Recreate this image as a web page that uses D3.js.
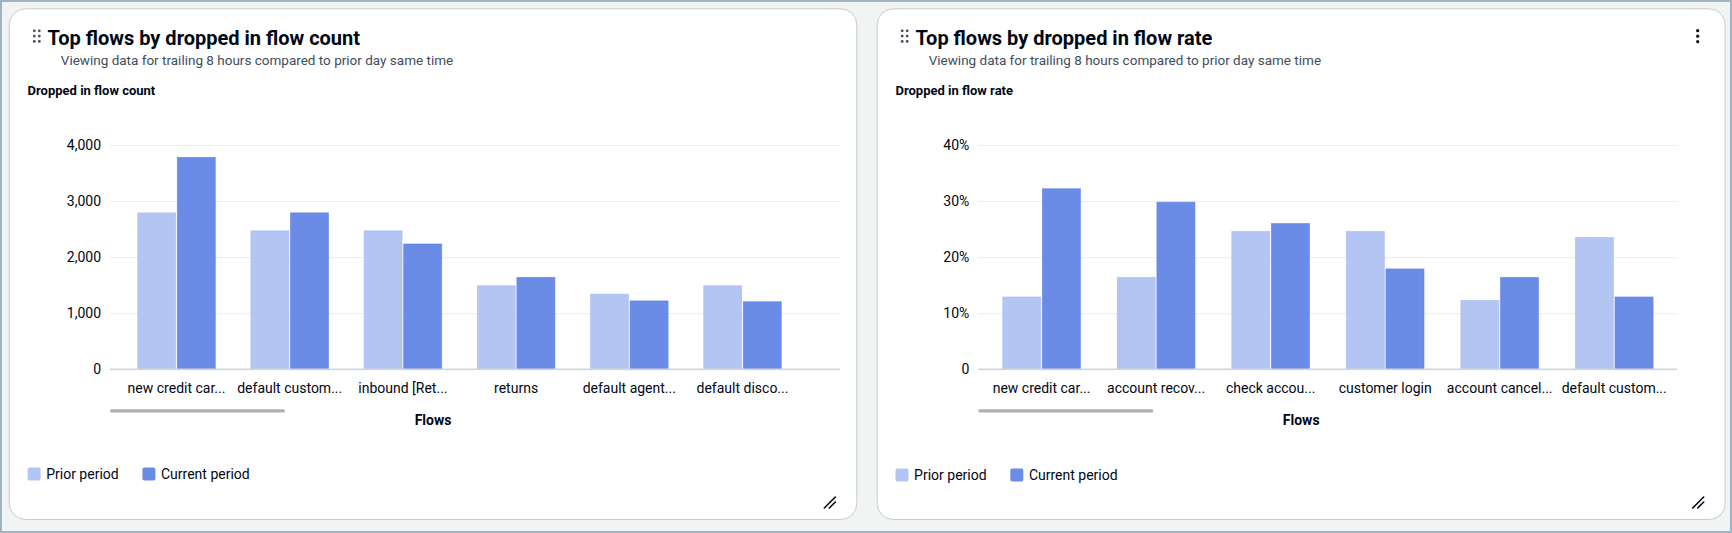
<!DOCTYPE html>
<html><head><meta charset="utf-8">
<script src="https://cdn.jsdelivr.net/npm/d3@7"></script>
<style>html,body{margin:0;padding:0;background:#fff;} svg{display:block;font-family:Roboto,"Noto Sans",sans-serif;}</style>
</head><body><svg id="c" width="1732" height="533"></svg>
<script>
// ---- data ----
const countFlows = ["new credit car...", "default custom...", "inbound [Ret...", "returns", "default agent...", "default disco..."];
const countPrior = [2790, 2470, 2470, 1490, 1340, 1490];
const countCurrent = [3780, 2790, 2235, 1640, 1220, 1205];
const countTicks = [0, 1000, 2000, 3000, 4000];

const rateFlows = ["new credit car...", "account recov...", "check accou...", "customer login", "account cancel...", "default custom..."];
const ratePrior = [12.9, 16.4, 24.6, 24.6, 12.3, 23.5];
const rateCurrent = [32.2, 29.8, 26.0, 17.9, 16.4, 12.9];
const rateTicks = [0, 10, 20, 30, 40];

const seriesNames = ["Prior period", "Current period"];
const seriesKeys = ["prior", "current"];
const seriesColors = ["#b3c5f3", "#6a8ce7"];

const titles = ["Top flows by dropped in flow count", "Top flows by dropped in flow rate"];
const subtitle = "Viewing data for trailing 8 hours compared to prior day same time";
const yTitles = ["Dropped in flow count", "Dropped in flow rate"];
const xTitle = "Flows";

// ---- drawing ----
const svg = d3.select("#c");
const W = 1732, H = 533;
svg.append("rect").attr("x", 1).attr("y", 1).attr("width", W - 2).attr("height", H - 2)
  .attr("fill", "#f2f3f3").attr("stroke", "#9bb4c6").attr("stroke-width", 2);

const TXT = "#000716", SUB = "#414d5c";

function drawCard(cfg) {
  const cx = cfg.cardX, cy = 8.3, cw = cfg.cardW, ch = 511.7;
  const g = svg.append("g");
  g.append("rect").attr("x", cx + 0.5).attr("y", cy + 0.5).attr("width", cw - 1).attr("height", ch - 1)
    .attr("rx", 16).attr("fill", "#ffffff").attr("stroke", "#c2ccd5").attr("stroke-width", 1);

  // drag handle
  const hd = [];
  [0, 1].forEach(c => [0, 1, 2].forEach(r => hd.push([cx + 25.5 + c * 5, 30.8 + r * 5.3])));
  g.selectAll(".hd").data(hd).join("circle").attr("cx", d => d[0]).attr("cy", d => d[1]).attr("r", 1.4).attr("fill", "#414d5c");

  g.append("text").attr("x", cx + 38.7).attr("y", 45).attr("font-size", 20).attr("font-weight", 700)
    .attr("fill", TXT).text(cfg.title);
  g.append("text").attr("x", cx + 52).attr("y", 64.5).attr("font-size", 13.5)
    .attr("fill", SUB).text(subtitle);
  g.append("text").attr("x", cx + 18.8).attr("y", 95).attr("font-size", 13).attr("font-weight", 700)
    .attr("fill", TXT).text(cfg.yTitle);

  if (cfg.menu) {
    [30.7, 36.2, 41.7].forEach(yy => g.append("circle").attr("cx", cx + cw - 28).attr("cy", yy).attr("r", 1.6).attr("fill", TXT));
  }

  // scales
  const y = d3.scaleLinear().domain([0, cfg.ticks[cfg.ticks.length - 1]]).range([369.3, 145]);
  const x0 = d3.scaleBand().domain(cfg.cats).range(cfg.bandRange).paddingInner(cfg.pi).paddingOuter(0.16);
  const x1 = d3.scaleBand().domain(seriesKeys).range([0, x0.bandwidth()]).paddingInner(0.04);

  // y axis with gridlines
  const ya = g.append("g").attr("transform", `translate(${cfg.grid[0]},0)`)
    .call(d3.axisLeft(y).tickValues(cfg.ticks).tickFormat(cfg.fmt)
      .tickSize(-(cfg.grid[1] - cfg.grid[0])).tickPadding(9));
  ya.select(".domain").remove();
  ya.selectAll(".tick line").attr("stroke", "#e9ebed").attr("stroke-width", 1);
  ya.selectAll(".tick text").attr("fill", TXT).attr("font-size", 14).attr("font-family", "Roboto");

  // bars
  const rows = cfg.cats.map((c, i) => ({ cat: c, vals: [cfg.prior[i], cfg.current[i]] }));
  const grp = g.selectAll(".grp").data(rows).join("g").attr("transform", d => `translate(${x0(d.cat)},0)`);
  grp.selectAll("rect").data(d => d.vals.map((v, k) => ({ v, k })))
    .join("rect")
    .attr("x", d => x1(seriesKeys[d.k]))
    .attr("y", d => y(d.v))
    .attr("width", x1.bandwidth())
    .attr("height", d => y(0) - y(d.v))
    .attr("fill", d => seriesColors[d.k])
    .attr("stroke", d => d.k === 0 ? "#a9bdf1" : "#5d82e4")
    .attr("stroke-width", 0.8)
    .attr("stroke-opacity", 0.7);

  // baseline
  g.append("line").attr("x1", cfg.grid[0]).attr("x2", cfg.grid[1]).attr("y1", y(0)).attr("y2", y(0))
    .attr("stroke", "#d1d5db").attr("stroke-width", 1.5);

  // x axis labels
  const xa = g.append("g").attr("transform", `translate(0,${y(0)})`)
    .call(d3.axisBottom(x0).tickSize(0).tickPadding(13.3));
  xa.select(".domain").remove();
  xa.selectAll(".tick text").attr("fill", TXT).attr("font-size", 14).attr("font-family", "Roboto");

  // scrollbar
  g.append("rect").attr("x", cfg.grid[0]).attr("y", 409.3).attr("width", 175).attr("height", 3.2)
    .attr("rx", 1.6).attr("fill", "#b0b0b0");

  // x title
  g.append("text").attr("x", cx + cw / 2).attr("y", 424.5).attr("text-anchor", "middle")
    .attr("font-size", 14).attr("font-weight", 700).attr("fill", TXT).text(xTitle);

  // legend
  let lx = cx + 18.8;
  seriesNames.forEach((nm, k) => {
    g.append("rect").attr("x", lx).attr("y", cfg.legY - 6.5).attr("width", 13).attr("height", 13).attr("rx", 2)
      .attr("fill", seriesColors[k]);
    const t = g.append("text").attr("x", lx + 18.6).attr("y", cfg.legY + 5).attr("font-size", 14)
      .attr("fill", TXT).text(nm);
    lx += k === 0 ? 114.8 : 0;
  });

  // resize icon
  const rx = cx + cw - 27, ry = 502.5;
  g.append("line").attr("x1", rx - 6).attr("y1", ry + 5.5).attr("x2", rx + 5).attr("y2", ry - 5.5)
    .attr("stroke", TXT).attr("stroke-width", 1.6).attr("stroke-linecap", "round");
  g.append("line").attr("x1", rx - 1).attr("y1", ry + 5.5).attr("x2", rx + 5).attr("y2", ry - 0.5)
    .attr("stroke", TXT).attr("stroke-width", 1.6).attr("stroke-linecap", "round");
}

drawCard({
  cardX: 8.8, cardW: 848.5, title: titles[0], yTitle: yTitles[0],
  cats: countFlows, prior: countPrior, current: countCurrent, ticks: countTicks,
  fmt: d3.format(","), grid: [110, 840], bandRange: [119.6, 799.4], pi: 0.3145, legY: 474, menu: false
});
drawCard({
  cardX: 876.7, cardW: 849, title: titles[1], yTitle: yTitles[1],
  cats: rateFlows, prior: ratePrior, current: rateCurrent, ticks: rateTicks,
  fmt: d => d === 0 ? "0" : d + "%", grid: [978.3, 1677], bandRange: [984.4, 1671.4], pi: 0.3217, legY: 475, menu: true
});
</script>
</body></html>
